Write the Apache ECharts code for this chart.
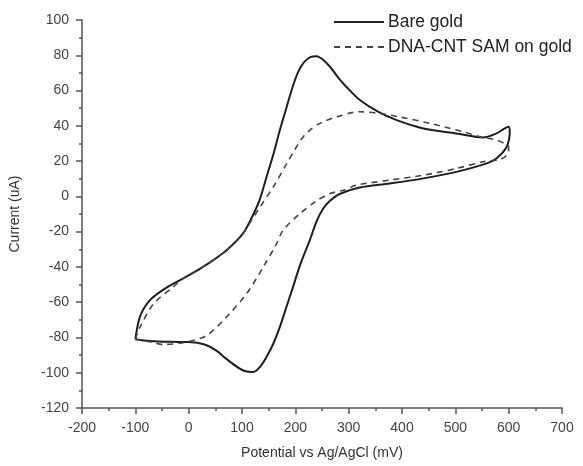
<!DOCTYPE html>
<html>
<head>
<meta charset="utf-8">
<script src="https://cdn.jsdelivr.net/npm/echarts@6/dist/echarts.min.js"></script>
<style>html,body{margin:0;padding:0;background:#fff}#c{width:583px;height:466px}</style>
</head>
<body>
<div id="c"></div>
<script>
var seriesNames = ['Bare gold', 'DNA-CNT SAM on gold'];
var bareGoldPotential = [-100,-91,-73,-48,-10,27,71,102,120,133,146,159,171,184,196,206,216,228,240,252,265,280,296,321,355,390,440,502,552,577,600,602,596,577,559,502,440,377,321,284,265,252,240,227,210,195,183,171,158,146,133,121,105,90,70,52,30,0,-35,-72,-100];
var bareGoldCurrent   = [-81,-68,-59,-53,-46.5,-40,-30.5,-21,-11,-2,11,24,37.6,51,63,71,76,79,79.5,77.5,73.5,67.5,62,54.6,48,43.2,38.5,35.7,33.4,35.7,39.5,36.6,28,21.5,18.7,13.9,10.2,7.3,5,1.5,-2.5,-7,-14,-25,-38,-52,-63,-74,-84,-91,-97,-99.6,-99,-96.5,-92,-87.5,-84,-82.6,-82.5,-82,-81];
var dnaCntPotential = [-100,-91,-66,-29,-10,27,71,102,118,134,160,184,200,215,230,246,277,321,359,396,452,515,546,577,592,600,598,585,552,502,440,377,315,290,265,240,209,177,165,140,109,71,34,-4,-48,-72,-100];
var dnaCntCurrent   = [-81,-74,-61,-51.4,-46.5,-40,-30.5,-21,-13.5,-6,6,18.7,27,33.8,38.3,41.4,45,48,47,45,41.4,36.6,33.8,32,30,28,24,21,19.6,15.8,12,9.2,6.4,3.5,1.6,-2.5,-9.7,-19.2,-26.7,-40,-55,-68.4,-78.8,-82.6,-84,-82.5,-81];
var xTicks = {min: -200, max: 700, step: 100};
var yTicks = {min: -120, max: 100, step: 20};

function pairs(xs, ys) { return xs.map(function (x, i) { return [x, ys[i]]; }); }

var font = 'Liberation Sans, Arial, sans-serif';
var axisCommon = {
  axisLine: {show: true, onZero: false, lineStyle: {color: '#555', width: 1.5}},
  axisTick: {show: true, inside: false, length: 6, lineStyle: {color: '#555', width: 1.5}},
  minorTick: {show: true, splitNumber: 2, length: 3, lineStyle: {color: '#555', width: 1.5}},
  splitLine: {show: false},
  nameTextStyle: {color: '#333', fontSize: 14, fontFamily: font}
};

var chart = echarts.init(document.getElementById('c'), null, {renderer: 'canvas'});
chart.setOption({
  animation: false,
  backgroundColor: '#fff',
  grid: {left: 82, right: 21, top: 20, bottom: 58, containLabel: false},
  legend: {
    data: seriesNames,
    orient: 'vertical',
    left: 328, top: 8,
    itemWidth: 50, itemHeight: 14, itemGap: 7,
    itemStyle: {opacity: 0},
    textStyle: {color: '#222', fontSize: 17.5, fontFamily: font, padding: [0, 0, 0, -1]}
  },
  xAxis: Object.assign({}, axisCommon, {
    type: 'value', min: xTicks.min, max: xTicks.max, interval: xTicks.step,
    axisLabel: {color: '#444', fontSize: 14, fontFamily: font, margin: 13},
    name: 'Potential vs Ag/AgCl (mV)', nameLocation: 'middle', nameGap: 38
  }),
  yAxis: Object.assign({}, axisCommon, {
    type: 'value', min: yTicks.min, max: yTicks.max, interval: yTicks.step,
    axisLabel: {color: '#444', fontSize: 14, fontFamily: font, margin: 13},
    name: 'Current (uA)', nameLocation: 'middle', nameGap: 60, nameRotate: 90
  }),
  series: [
    {
      name: seriesNames[0], type: 'line', data: pairs(bareGoldPotential, bareGoldCurrent),
      showSymbol: false, symbol: 'none', smooth: 0.3,
      lineStyle: {color: '#1e1e1e', width: 2}, itemStyle: {color: '#1e1e1e'}
    },
    {
      name: seriesNames[1], type: 'line', data: pairs(dnaCntPotential, dnaCntCurrent),
      showSymbol: false, symbol: 'none', smooth: 0.3,
      lineStyle: {color: '#444', width: 1.6, type: [6, 5]}, itemStyle: {color: '#444'}
    }
  ]
});
</script>
</body>
</html>
